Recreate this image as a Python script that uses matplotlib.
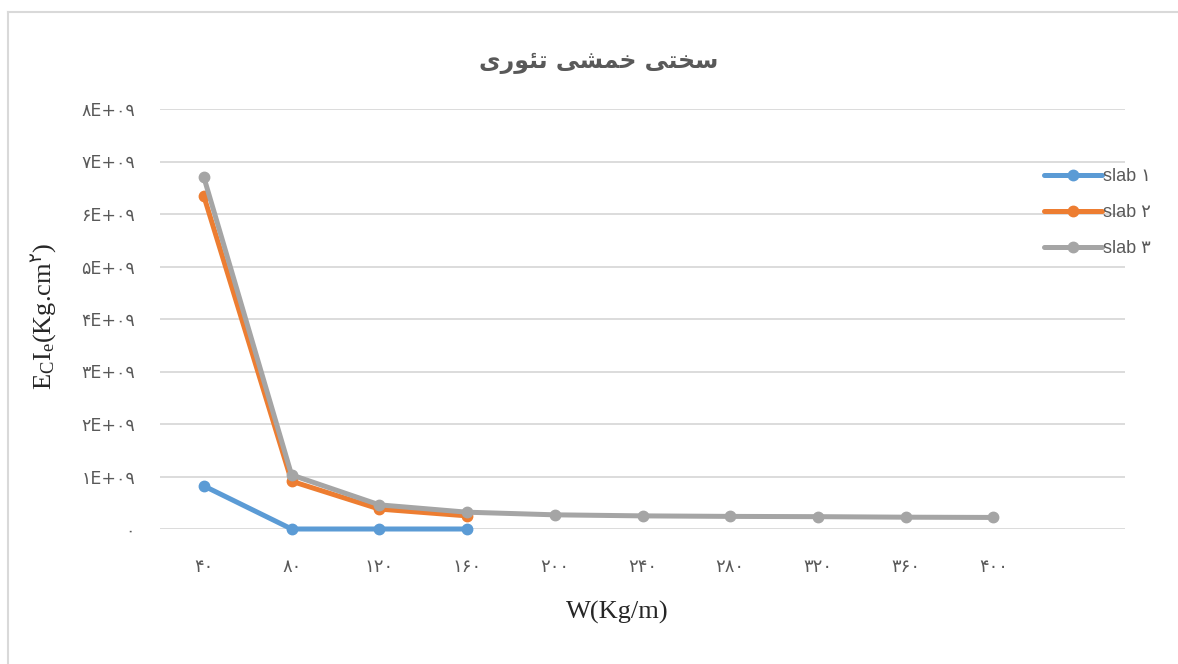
import numpy as np
import matplotlib
matplotlib.use("Agg")
import matplotlib.pyplot as plt
from matplotlib.lines import Line2D

# داده ها
w_labels = ["۴۰", "۸۰", "۱۲۰", "۱۶۰", "۲۰۰", "۲۴۰", "۲۸۰", "۳۲۰", "۳۶۰", "۴۰۰"]
slab1 = [0.82e9, 0.0, 0.0, 0.0]
slab2 = [6.34e9, 0.91e9, 0.38e9, 0.25e9]
slab3 = [6.70e9, 1.03e9, 0.46e9, 0.32e9, 0.27e9, 0.25e9, 0.24e9, 0.235e9, 0.225e9, 0.22e9]
series_names = ["slab ۱", "slab ۲", "slab ۳"]
colors = ["#5B9BD5", "#ED7D31", "#A5A5A5"]
y_ticks = [0, 1e9, 2e9, 3e9, 4e9, 5e9, 6e9, 7e9, 8e9]
y_ticklabels = ["۰", "۱E+۰۹", "۲E+۰۹", "۳E+۰۹", "۴E+۰۹", "۵E+۰۹", "۶E+۰۹", "۷E+۰۹", "۸E+۰۹"]

# عنوان: سختی خمشی تئوری (حروف شکل گرفته و به ترتیب دیداری)
title = ("\uFBFC\uFEAD\uFEEE\uFE8C\uFE97 "
         "\uFBFD\uFEB8\uFEE4\uFEA7 "
         "\uFBFD\uFE98\uFEA8\uFEB3")

plt.rcParams['mathtext.fontset'] = 'custom'
plt.rcParams['mathtext.rm'] = 'Liberation Serif'
plt.rcParams['mathtext.it'] = 'Liberation Serif'
plt.rcParams['mathtext.sf'] = 'DejaVu Sans'

fig = plt.figure(figsize=(11.78, 6.64), dpi=100)
ax = fig.add_axes([160/1178, 135/664, 965/1178, 420/664])

data = [slab1, slab2, slab3]
for vals, name, c in zip(data, series_names, colors):
    x = np.arange(len(vals))
    ax.plot(x, vals, color=c, lw=3.6, marker='o', markersize=7.5,
            solid_capstyle='round', label=name, clip_on=False, zorder=3)

ax.set_xlim(-0.5, 10.5)
ax.set_ylim(0, 8e9)
ax.set_yticks(y_ticks)
ax.set_yticklabels(y_ticklabels, family=['DejaVu Sans'], fontsize=12.5, color='#595959')
ax.set_xticks(np.arange(len(w_labels)))
ax.set_xticklabels(w_labels, family=['DejaVu Sans'], fontsize=13, color='#595959')
ax.tick_params(axis='both', length=0)
ax.tick_params(axis='y', pad=18)
ax.tick_params(axis='x', pad=21)
ax.grid(axis='y', color='#D9D9D9', lw=1.3)
ax.set_axisbelow(True)
for s in ax.spines.values():
    s.set_visible(False)

fig.text(599/1178, 1 - 62/664, title, ha='center', va='center',
         fontsize=17, fontweight='bold', color='#595959', family=['DejaVu Sans'])
fig.text(617/1178, 1 - 612/664, "W(Kg/m)", ha='center', va='center',
         fontsize=19, family=['Liberation Serif'], color='#262626')
fig.text(44/1178, 1 - 316/664, r"E$_\mathregular{C}$I$_\mathregular{e}$(Kg.cm$^\mathsf{۲}$)",
         ha='center', va='center', rotation=90,
         fontsize=19, family=['Liberation Serif'], color='#262626')

leg = ax.legend(loc='upper left', bbox_to_anchor=(1028/1178, 1 - 152/664),
                bbox_transform=fig.transFigure, frameon=False,
                handlelength=3.2, handletextpad=0.05, labelspacing=1.05,
                prop={'family': ['Liberation Sans', 'DejaVu Sans'], 'size': 13})
for t in leg.get_texts():
    t.set_color('#595959')

# قاب نمودار
fig.add_artist(Line2D([8/1178, 8/1178], [0, 1 - 12/664], color='#D9D9D9', lw=1.5,
                      transform=fig.transFigure))
fig.add_artist(Line2D([8/1178, 1], [1 - 12/664, 1 - 12/664], color='#D9D9D9', lw=1.5,
                      transform=fig.transFigure))

fig.savefig("out.png", dpi=100)
